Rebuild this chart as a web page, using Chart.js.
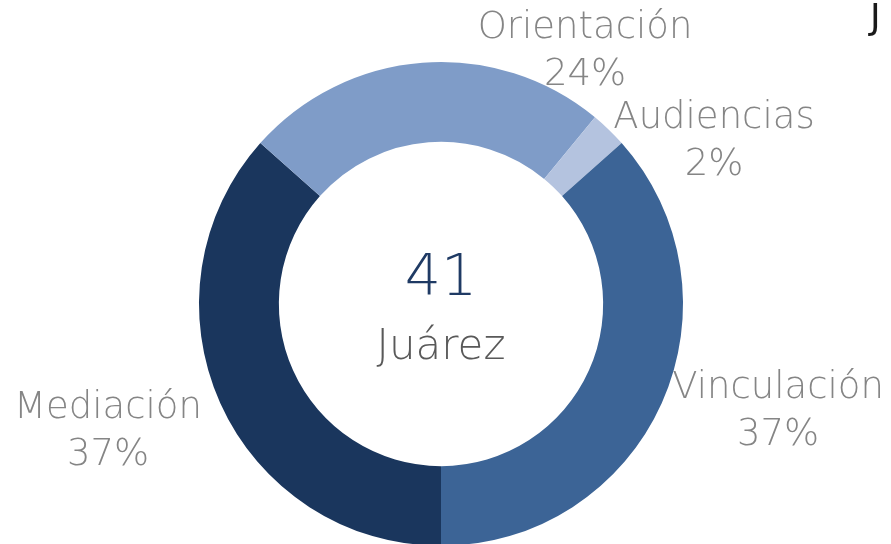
<!DOCTYPE html>
<html>
<head>
<meta charset="utf-8">
<script src="https://cdn.jsdelivr.net/npm/chart.js@4"></script>
<style>
    html, body { margin: 0; padding: 0; background: #ffffff; overflow: hidden; }
    #wrap { width: 891px; height: 544px; overflow: hidden; }
</style>
</head>
<body>
<div id="wrap"><canvas id="graphDonut" width="891" height="600"></canvas></div>
<script>
// data
const categories = ['Mediación', 'Orientación', 'Audiencias', 'Vinculación'];
const counts = [15, 10, 1, 15];
const sliceColors = ['#1a365d', '#7f9cc8', '#b4c3df', '#3c6496'];
const centerTitle = 'Juárez';

const total = counts.reduce((a, b) => a + b, 0);

// where Excel put each label (center of the name line)
const labelSpots = {
    'Mediación':   [108, 408],
    'Orientación': [585, 28],
    'Audiencias':  [714, 118],
    'Vinculación': [778, 388]
};

const labelsPlugin = {
    id: 'donutLabels',
    afterDraw(chart){
        const ctx = chart.ctx;
        ctx.save();
        ctx.textAlign = 'center';
        ctx.textBaseline = 'middle';

        ctx.font = '200 37px "DejaVu Sans"';
        ctx.fillStyle = '#858585';
        for(let i = 0; i < categories.length; i++){
            let spot = labelSpots[categories[i]];
            let pct = Math.round(counts[i] / total * 100) + '%';
            ctx.fillText(categories[i], spot[0], spot[1]);
            ctx.fillText(pct, spot[0], spot[1] + 47);
        };

        const meta = chart.getDatasetMeta(0).data[0];
        ctx.font = '200 57px "DejaVu Sans"';
        ctx.fillStyle = '#1f3a64';
        ctx.fillText(String(total), meta.x, meta.y - 24);
        ctx.font = '200 42px "DejaVu Sans"';
        ctx.fillStyle = '#595959';
        ctx.fillText(centerTitle, meta.x, meta.y + 44);

        // title cut at the right edge
        ctx.textAlign = 'left';
        ctx.font = '36px "DejaVu Sans"';
        ctx.fillStyle = '#1a1a1a';
        ctx.fillText('J', 870, 20);
        ctx.restore();
    }
};

window.addEventListener("load", function(){
    const canvasDonut = document.getElementById('graphDonut').getContext('2d');
    new Chart(canvasDonut, {
        type: 'doughnut',
        data: {
            labels: categories,
            datasets: [{
                data: counts,
                backgroundColor: sliceColors,
                borderWidth: 0
            }]
        },
        options: {
            responsive: false,
            maintainAspectRatio: false,
            animation: false,
            rotation: 180,
            cutout: '67%',
            layout: {
                padding: { left: 199, right: 208, top: 62, bottom: 54 }
            },
            plugins: {
                legend: { display: false },
                tooltip: { enabled: false }
            }
        },
        plugins: [labelsPlugin]
    });
});
</script>
</body>
</html>
